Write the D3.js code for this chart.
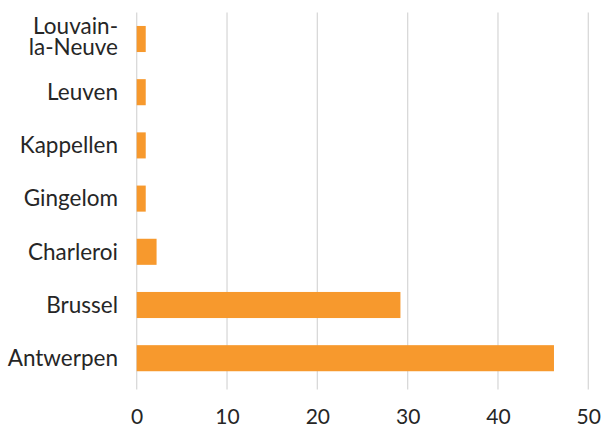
<!DOCTYPE html>
<html>
<head>
<meta charset="utf-8">
<script src="https://cdn.jsdelivr.net/npm/d3@7"></script>
<style>
  body { margin: 0; background: #fff; }
  text { font-family: Lato, "Open Sans", sans-serif; fill: #262626; }
</style>
</head>
<body>
<svg width="606" height="427"></svg>
<script>
var cities = ["Louvain-la-Neuve", "Leuven", "Kappellen", "Gingelom", "Charleroi", "Brussel", "Antwerpen"];
var counts = [1, 1, 1, 1, 2.2, 29.2, 46.2];
var xTicks = [0, 10, 20, 30, 40, 50];

var drawChart = function()
{
  var svg = d3.select("svg");
  var left = 136.7, right = 588.3, top = 12.4, bottom = 384.8;

  var x = d3.scaleLinear().domain([0, 50]).range([left, right]);
  var y = d3.scaleBand().domain(cities).range([top, bottom]).paddingInner(0.51).paddingOuter(0.255);

  /*grid*/
  svg.append("g")
     .selectAll("line")
     .data(xTicks)
     .enter()
     .append("line")
     .attr("x1", function(d) { return x(d); })
     .attr("x2", function(d) { return x(d); })
     .attr("y1", top)
     .attr("y2", 389.5)
     .attr("stroke", "#d9d9d9")
     .attr("stroke-width", 1.3);

  svg.append("g")
     .selectAll("rect")
     .data(cities)
     .enter()
     .append("rect")
     .attr("x", x(0))
     .attr("y", function(d) { return y(d); })
     .attr("width", function(d, i) { return x(counts[i]) - x(0); })
     .attr("height", y.bandwidth())
     .attr("fill", "#f7992d");

  /*x axis labels*/
  var xAxis = svg.append("g")
     .attr("transform", "translate(0," + 400 + ")")
     .call(d3.axisBottom(x).tickValues(xTicks).tickSize(0).tickPadding(0));
  xAxis.select(".domain").remove();
  xAxis.selectAll("text")
       .attr("dy", "0")
       .attr("y", 24.3)
       .style("font-size", "21px")
       .attr("fill", "#262626");

  /*y axis labels*/
  var yAxis = svg.append("g")
     .attr("transform", "translate(118,0)")
     .call(d3.axisLeft(y).tickSize(0).tickPadding(0));
  yAxis.select(".domain").remove();
  yAxis.selectAll("text")
       .style("font-size", "22.5px")
       .attr("dy", "0.35em")
       .attr("fill", "#262626")
       .each(function(d)
       {
         if (d == "Louvain-la-Neuve")
         {
           var t = d3.select(this).text("").attr("dy", null);
           t.append("tspan").attr("x", 0).attr("y", -5).text("Louvain-");
           t.append("tspan").attr("x", 0).attr("y", 16).text("la-Neuve");
         }
       });
}

drawChart();
</script>
</body>
</html>
